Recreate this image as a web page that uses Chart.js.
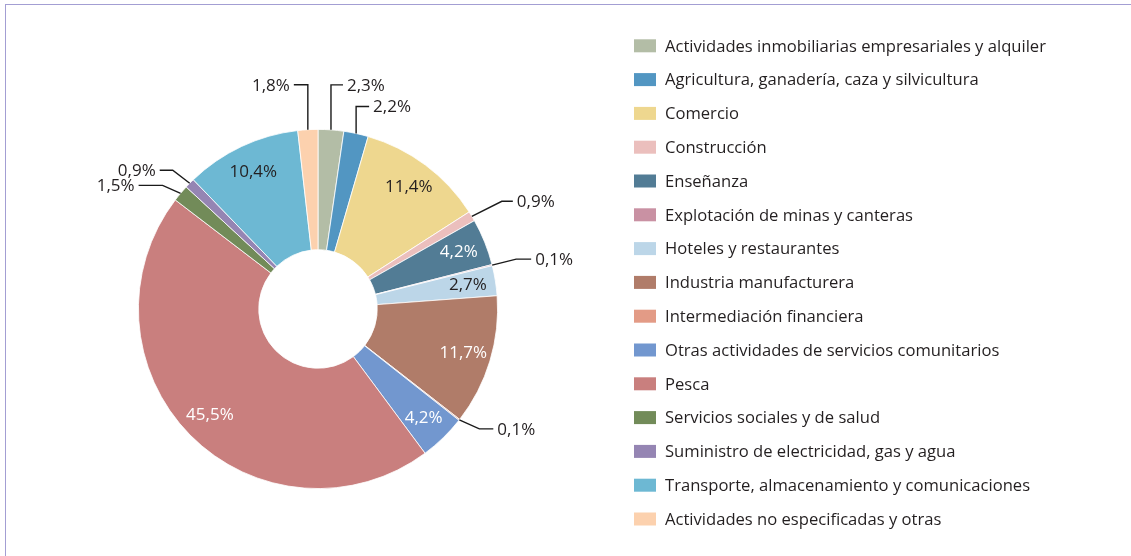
<!DOCTYPE html>
<html>
<head>
<meta charset="utf-8">
<script src="https://cdn.jsdelivr.net/npm/chart.js@4.4.1/dist/chart.umd.min.js"></script>
<style>
  html, body { margin: 0; padding: 0; background: #ffffff; }
  #wrap { position: relative; width: 1131px; height: 556px; overflow: hidden; }
  #frame {
    position: absolute; left: 5px; top: 4px; right: -10px; bottom: -10px;
    border-top: 1px solid #a39ed3; border-left: 1px solid #a39ed3;
  }
  #c { position: absolute; left: 0; top: 0; }
</style>
</head>
<body>
<div id="wrap">
  <div id="frame"></div>
  <canvas id="c" width="1131" height="556"></canvas>
</div>
<script>
// Sectors of economic activity and their share (%)
const categories = [
  'Actividades inmobiliarias empresariales y alquiler',
  'Agricultura, ganadería, caza y silvicultura',
  'Comercio',
  'Construcción',
  'Enseñanza',
  'Explotación de minas y canteras',
  'Hoteles y restaurantes',
  'Industria manufacturera',
  'Intermediación financiera',
  'Otras actividades de servicios comunitarios',
  'Pesca',
  'Servicios sociales y de salud',
  'Suministro de electricidad, gas y agua',
  'Transporte, almacenamiento y comunicaciones',
  'Actividades no especificadas y otras'
];
const shares = [2.3, 2.2, 11.4, 0.9, 4.2, 0.1, 2.7, 11.7, 0.1, 4.2, 45.5, 1.5, 0.9, 10.4, 1.8];

const sliceColors = [
  '#b3bda6', '#5296c2', '#eed78f', '#ebbfbd', '#527c95',
  '#c991a3', '#bcd6e8', '#b07c69', '#e39b86', '#7297cf',
  '#c97f7e', '#728b59', '#9585b3', '#6db8d3', '#fcd1ae'
];

// How each value label is shown: inside the ring, or outside with an elbow leader
// (leader: radial/vertical offset from the rim, then a horizontal run of length h).
const labelStyle = [
  { leader: { dx: 0,   dy: -45, h: 12 } },
  { leader: { dx: 0,   dy: -27, h: 13 } },
  { inside: '#231f20' },
  { leader: { dx: 30,  dy: -15, h: 11 } },
  { inside: '#ffffff' },
  { leader: { dx: 24,  dy: -6,  h: 15 } },
  { inside: '#231f20' },
  { inside: '#ffffff' },
  { leader: { dx: 20,  dy: 9,   h: 14 } },
  { inside: '#ffffff' },
  { inside: '#ffffff' },
  { leader: { dx: -18, dy: -8,  h: -24 } },
  { leader: { dx: -17, dy: -13, h: -13 } },
  { inside: '#231f20' },
  { leader: { dx: 0,   dy: -45, h: -14 } }
];

const FONT = '"Open Sans", "Noto Sans", sans-serif';
const fmt = v => v.toFixed(1).replace('.', ',') + '%';

const valueLabels = {
  id: 'valueLabels',
  afterDatasetsDraw(chart) {
    const ctx = chart.ctx;
    const meta = chart.getDatasetMeta(0);
    const values = chart.data.datasets[0].data;
    ctx.save();
    ctx.font = '17px ' + FONT;
    ctx.textBaseline = 'middle';
    meta.data.forEach((arc, i) => {
      const st = labelStyle[i];
      const mid = (arc.startAngle + arc.endAngle) / 2;
      const text = fmt(values[i]);
      if (st.inside) {
        const r = arc.outerRadius * 0.845;
        ctx.fillStyle = st.inside;
        ctx.textAlign = 'center';
        ctx.fillText(text, arc.x + Math.cos(mid) * r, arc.y + Math.sin(mid) * r);
      } else {
        const L = st.leader;
        const sx = arc.x + Math.cos(mid) * arc.outerRadius;
        const sy = arc.y + Math.sin(mid) * arc.outerRadius;
        const ex = sx + L.dx, ey = sy + L.dy;
        const hx = ex + L.h;
        ctx.strokeStyle = '#1a1a1a';
        ctx.lineWidth = 1.4;
        ctx.beginPath();
        ctx.moveTo(sx, sy);
        ctx.lineTo(ex, ey);
        ctx.lineTo(hx, ey);
        ctx.stroke();
        ctx.fillStyle = '#231f20';
        ctx.textAlign = L.h < 0 ? 'right' : 'left';
        ctx.fillText(text, hx + (L.h < 0 ? -4 : 4), ey + 1);
      }
    });
    ctx.restore();
  }
};

// Legend list on the right
const sideLegend = {
  id: 'sideLegend',
  afterDraw(chart) {
    const ctx = chart.ctx;
    const ds = chart.data.datasets[0];
    ctx.save();
    ctx.font = '16.6px ' + FONT;
    ctx.textBaseline = 'middle';
    ctx.textAlign = 'left';
    chart.data.labels.forEach((lab, i) => {
      const y = 45.8 + i * 33.8;
      ctx.fillStyle = ds.backgroundColor[i];
      ctx.fillRect(634, y - 6.5, 22, 13);
      ctx.fillStyle = '#231f20';
      ctx.fillText(lab, 665, y + 1);
    });
    ctx.restore();
  }
};

new Chart(document.getElementById('c'), {
  type: 'doughnut',
  data: {
    labels: categories,
    datasets: [{
      data: shares,
      backgroundColor: sliceColors,
      borderColor: '#ffffff',
      borderWidth: 0.8
    }]
  },
  options: {
    responsive: false,
    devicePixelRatio: 1,
    animation: false,
    events: [],
    rotation: 0,
    cutout: '33%',
    layout: { padding: { left: 138, right: 633, top: 129, bottom: 67 } },
    plugins: {
      legend: { display: false },
      tooltip: { enabled: false }
    }
  },
  plugins: [valueLabels, sideLegend]
});
</script>
</body>
</html>
